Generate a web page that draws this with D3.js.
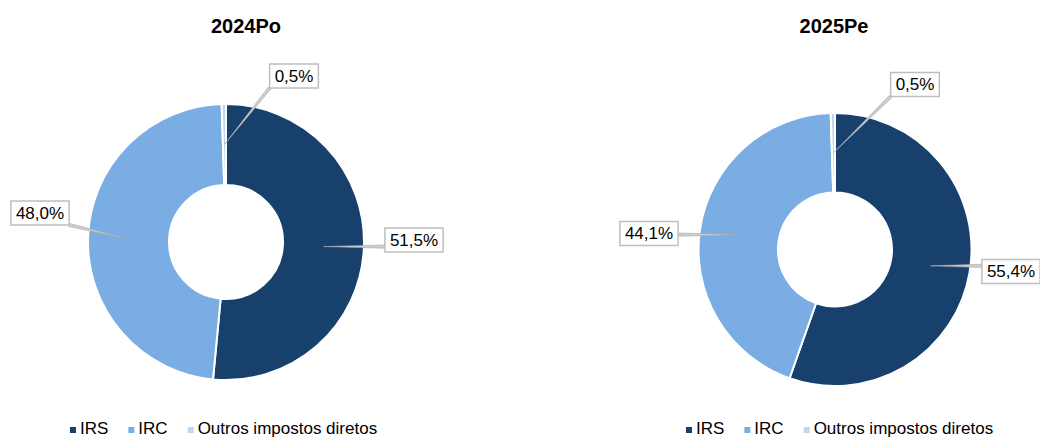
<!DOCTYPE html>
<html>
<head>
<meta charset="utf-8">
<script src="https://cdn.jsdelivr.net/npm/d3@7"></script>
<style>
  html, body { margin: 0; padding: 0; background: #fff; }
  svg { display: block; font-family: "Liberation Sans", Arial, sans-serif; }
</style>
</head>
<body>
<div id="chart"></div>
<script>
// ---- Data ----
const categories = ["IRS", "IRC", "Outros impostos diretos"];
const colors = ["#17406d", "#7aade3", "#bdd7ee"];
const titles = ["2024Po", "2025Pe"];
const values2024 = [51.5, 48.0, 0.5];
const values2025 = [55.4, 44.1, 0.5];
const labels2024 = ["51,5%", "48,0%", "0,5%"];
const labels2025 = ["55,4%", "44,1%", "0,5%"];

// ---- Layout (per panel) ----
const W = 1040, H = 440;
const panels = [
  { title: titles[0], values: values2024, labels: labels2024,
    cx: 226, cy: 242, r: 138, titleX: 246, legendX: 70,
    // manual label box centres, relative to the donut centre
    nudge: [[188, -2], [-186, -29], [68, -166]] },
  { title: titles[1], values: values2025, labels: labels2025,
    cx: 835, cy: 249.5, r: 136.5, titleX: 834, legendX: 686,
    nudge: [[176, 22], [-186, -16], [80, -165]] }
];
const innerR = 57;
const fontSize = 17;

const svg = d3.select("#chart").append("svg")
  .attr("width", W).attr("height", H);
svg.append("rect").attr("width", W).attr("height", H).attr("fill", "#fff");

const pie = d3.pie().sort(null).value(d => d);

panels.forEach(p => {
  const g = svg.append("g");

  // ---- Title ----
  g.append("text")
    .attr("x", p.titleX).attr("y", 33)
    .attr("text-anchor", "middle")
    .attr("font-size", 20).attr("font-weight", "bold")
    .attr("fill", "#000")
    .text(p.title);

  // ---- Donut ----
  const arc = d3.arc().innerRadius(innerR).outerRadius(p.r);
  const arcs = pie(p.values);

  const donut = g.append("g").attr("transform", `translate(${p.cx},${p.cy})`);
  donut.selectAll("path")
    .data(arcs)
    .join("path")
    .attr("d", arc)
    .attr("fill", (d, i) => colors[i])
    .attr("stroke", "#fff")
    .attr("stroke-width", 2);

  // ---- Labels with leader lines ----
  const boxH = 24;
  arcs.forEach((d, i) => {
    const [ax, ay] = arc.centroid(d);
    const [nx, ny] = p.nudge[i];
    const lbl = donut.append("g");
    const t = lbl.append("text")
      .attr("x", nx).attr("y", ny)
      .attr("text-anchor", "middle")
      .attr("dominant-baseline", "central")
      .attr("font-size", fontSize)
      .attr("fill", "#000")
      .text(p.labels[i]);
    const tw = t.node().getComputedTextLength();
    const bw = tw + 10;
    const x0 = nx - bw / 2, x1 = nx + bw / 2;
    const y0 = ny - boxH / 2, y1 = ny + boxH / 2;

    // leader: from slice centroid to nearest point on the box
    const ex = Math.max(x0, Math.min(x1, ax));
    const ey = Math.max(y0, Math.min(y1, ay));
    const len = Math.hypot(ex - ax, ey - ay) || 1;
    const px = -(ey - ay) / len * 1.6, py = (ex - ax) / len * 1.6;
    lbl.insert("path", "text")
      .attr("d", `M${ax},${ay}L${ex + px},${ey + py}L${ex - px},${ey - py}Z`)
      .attr("fill", "#cfcfcf")
      .attr("stroke", "#a6a6a6")
      .attr("stroke-width", 0.6);

    lbl.insert("rect", "text")
      .attr("x", x0).attr("y", y0)
      .attr("width", bw).attr("height", boxH)
      .attr("fill", "#fff")
      .attr("stroke", "#bfbfbf")
      .attr("stroke-width", 1.5);
  });

  // ---- Legend ----
  const leg = g.append("g");
  let lx = p.legendX;
  categories.forEach((c, i) => {
    leg.append("rect")
      .attr("x", lx).attr("y", 427)
      .attr("width", 6).attr("height", 6)
      .attr("fill", colors[i]);
    const t = leg.append("text")
      .attr("x", lx + 10).attr("y", 434)
      .attr("font-size", fontSize)
      .attr("fill", "#000")
      .text(c);
    lx += 10 + t.node().getComputedTextLength() + 20;
  });
});
</script>
</body>
</html>
